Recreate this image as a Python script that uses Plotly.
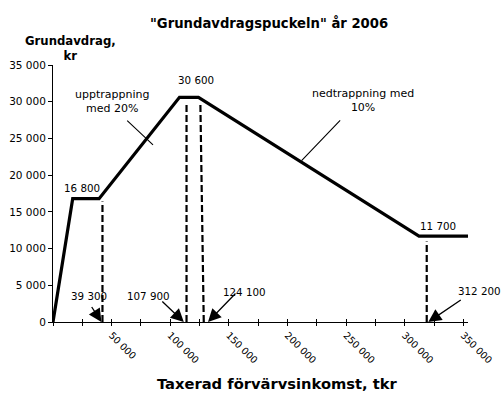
import plotly.graph_objects as go

# ---- data ----
income = [0, 16800, 39300, 107900, 124100, 312200, 354000]      # taxerad förvärvsinkomst, kr
deduction = [0, 16800, 16800, 30600, 30600, 11700, 11700]       # grundavdrag, kr

value_labels_x = [16800, 116000, 312200]                          # points whose level is printed
value_labels_y = [16800, 30600, 11700]

break_values = [39300, 107900, 124100, 312200]                    # breakpoints printed at the axis
arrow_head_x = [41300, 111600, 132200, 320100]                    # where the hand-drawn arrows point

guide_x_top = [42200, 113900, 125700, 318800]                     # hand-drawn dashed guide lines
guide_x_bottom = [42200, 113900, 128600, 318800]
guide_y_top = [16400, 29900, 29900, 10950]

x_ticks = list(range(0, 350001, 25000))
y_ticks = list(range(0, 35001, 5000))

title = '"Grundavdragspuckeln" år 2006'
y_title = "Grundavdrag,<br>kr"
x_title = "Taxerad förvärvsinkomst, tkr"
note_up = "upptrappning<br>med 20%"
note_down = "nedtrappning med<br>10%"


def fmt(v):
    return f"{v:,}".replace(",", " ")


FONT = "DejaVu Sans"
NUM = dict(family=FONT, size=10.3, color="black")
TXT = dict(family=FONT, size=11, color="black")


def bold(size):
    return dict(family=FONT, size=size, color="black", weight="bold")


fig = go.Figure()

# dashed guide lines
for xt, xb, yt in zip(guide_x_top, guide_x_bottom, guide_y_top):
    fig.add_trace(go.Scatter(x=[xb, xt], y=[0, yt], mode="lines",
                             line=dict(color="black", width=2.2, dash="7px,3px"),
                             hoverinfo="skip", showlegend=False))

# main line
fig.add_trace(go.Scatter(x=income, y=deduction, mode="lines",
                         line=dict(color="black", width=3.2),
                         showlegend=False))

# overlay axis trace (for crossing ticks)
fig.add_trace(go.Scatter(x=[None], y=[None], xaxis="x2", showlegend=False, hoverinfo="skip"))

x_ticktext = [fmt(v) if (v % 50000 == 0 and v > 0) else "" for v in x_ticks]

C = dict(xanchor="center", yanchor="middle")
ann = []
# value labels
shifts = [(9, 11), (7.5, 17), (19, 10)]
for xv, yv, (dx, dy) in zip(value_labels_x, value_labels_y, shifts):
    ann.append(dict(x=xv, y=yv, xref="x", yref="y", text=fmt(yv), showarrow=False,
                    xshift=dx, yshift=dy, font=NUM, **C))

# breakpoint labels with arrows
txt_shift = [(-12.4, 26), (-35, 26), (36.7, 30.3), (51.5, 31)]
tails = [(-11, -17), (-23, -22), (29, -30), (34, -23)]
for bv, hx, (tx, ty), (ax, ay) in zip(break_values, arrow_head_x, txt_shift, tails):
    ann.append(dict(x=hx, y=0, xref="x", yref="y", text=fmt(bv), showarrow=False,
                    xshift=tx, yshift=ty, font=NUM, **C))
    ann.append(dict(x=hx, y=0, xref="x", yref="y", text=" ", showarrow=True,
                    ax=ax, ay=ay, arrowhead=2, arrowsize=2.0, arrowwidth=1.3,
                    arrowcolor="black", standoff=0, startstandoff=0,
                    font=dict(size=1)))

# notes with leader lines
ann.append(dict(x=0.141, y=0.857, xref="paper", yref="paper", text=note_up,
                showarrow=False, font=TXT, **C))
ann.append(dict(x=0.241, y=0.689, xref="paper", yref="paper", text="", showarrow=True,
                ax=-27.3, ay=-25.7, arrowhead=0, arrowwidth=1.1, arrowcolor="black"))
ann.append(dict(x=0.747, y=0.862, xref="paper", yref="paper", text=note_down,
                showarrow=False, font=TXT, **C))
ann.append(dict(x=0.599, y=0.628, xref="paper", yref="paper", text="", showarrow=True,
                ax=40, ay=-41.7, arrowhead=0, arrowwidth=1.1, arrowcolor="black"))

# titles
ann.append(dict(x=0.520, y=1.165, xref="paper", yref="paper", text=title,
                showarrow=False, font=bold(13.2), **C))
ann.append(dict(x=0.041, y=1.066, xref="paper", yref="paper", text=y_title,
                showarrow=False, font=bold(11.7), **C))
ann.append(dict(x=0.542, y=-0.241, xref="paper", yref="paper", text=x_title,
                showarrow=False, font=bold(14.7), **C))

fig.update_layout(
    width=502, height=401,
    margin=dict(l=53, r=34, t=65, b=79, autoexpand=False),
    paper_bgcolor="white", plot_bgcolor="white",
    separators=", ",
    annotations=ann,
    xaxis=dict(range=[0, 354000], tickvals=x_ticks, ticktext=x_ticktext,
               tickangle=45, ticks="outside", ticklen=3, tickwidth=1, tickcolor="black",
               showline=True, linecolor="black", linewidth=1, automargin=False,
               showgrid=False, zeroline=False, tickfont=dict(family=FONT, size=9.6, color="black")),
    xaxis2=dict(range=[0, 354000], overlaying="x", anchor="y", side="bottom",
                tickvals=x_ticks, showticklabels=False, ticks="inside", ticklen=3,
                tickwidth=1, tickcolor="black", showline=False, showgrid=False,
                zeroline=False, automargin=False),
    yaxis=dict(range=[0, 35000], tickvals=y_ticks, tickformat=",d",
               ticks="outside", ticklen=4, tickwidth=1, tickcolor="black",
               showline=True, linecolor="black", linewidth=1, automargin=False,
               showgrid=False, zeroline=False,
               tickfont=dict(family=FONT, size=10.5, color="black")),
)

fig.write_html("out.html", config={"displayModeBar": False},
               post_script="document.body.style.margin='0';document.body.style.overflow='hidden';")
